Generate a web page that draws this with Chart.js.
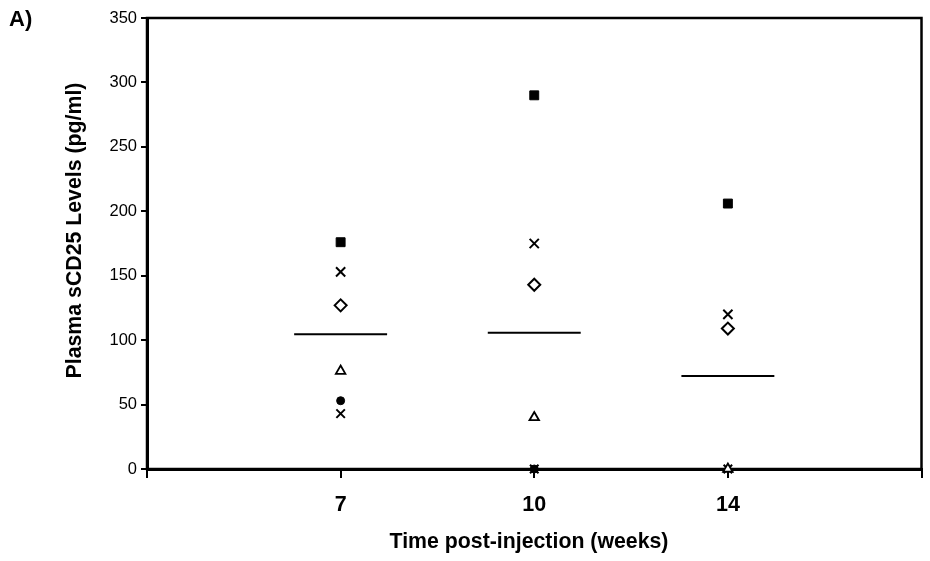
<!DOCTYPE html>
<html>
<head>
<meta charset="utf-8">
<script src="https://cdn.jsdelivr.net/npm/chart.js@4/dist/chart.umd.min.js"></script>
<style>
  html, body { margin: 0; padding: 0; background: #fff; }
  #wrap { position: relative; width: 930px; height: 561px; }
  #panel { position: absolute; left: 9px; top: 6px; font: bold 22px "Liberation Sans", Arial, sans-serif; color: #000; }
</style>
</head>
<body>
<div id="wrap">
  <canvas id="chart" width="930" height="561"></canvas>
  <div id="panel">A)</div>
</div>
<script>
// Weeks post-injection (shown as categories 1..3 on the x axis)
const weeks = ["7", "10", "14"];

// One series per animal, values in pg/ml (null = no marker visible)
const squareVals = [176, 290, 206];
const crossVals = [153, 175, 120];
const diamondVals = [127, 143, 109];
const triangleVals = [76, 40, 0];
const circleVals = [53, 0, null];
const crossLowVals = [43, 0, 0];

// Group means (horizontal bars)
const meanVals = [104.5, 105.8, 72.2];

const yTicks = [0, 50, 100, 150, 200, 250, 300, 350];

const yTitle = "Plasma sCD25 Levels (pg/ml)";
const xTitle = "Time post-injection (weeks)";

const FONT = '"Liberation Sans", Arial, sans-serif';
const MEAN_HALF = 0.24;

function toPoints(vals) {
  return vals.map((v, i) => ({ x: i + 1, y: v }));
}

function series(vals, style, radius, fill, border) {
  return {
    type: "scatter",
    data: toPoints(vals),
    pointStyle: style,
    pointRadius: radius,
    pointBackgroundColor: fill,
    pointBorderColor: "#000",
    pointBorderWidth: border,
    clip: false,
  };
}

const datasets = [
  series(squareVals, "rect", 6.3, "#000", 1),
  series(crossVals, "crossRot", 6.5, "#000", 2),
  series(diamondVals, "rectRot", 6, "#fff", 2),
  series(triangleVals, "triangle", 5.5, "#fff", 1.8),
  series(circleVals, "circle", 4, "#000", 1),
  series(crossLowVals, "crossRot", 6, "#000", 2),
];

meanVals.forEach((m, i) => {
  datasets.push({
    type: "line",
    data: [{ x: i + 1 - MEAN_HALF, y: m }, { x: i + 1 + MEAN_HALF, y: m }],
    borderColor: "#000",
    borderWidth: 2,
    pointRadius: 0,
    clip: false,
  });
});

// frame round the plot area + the two axis titles
const frame = {
  id: "frame",
  beforeDatasetsDraw(chart) {
    const { ctx, chartArea: a } = chart;
    ctx.save();
    ctx.strokeStyle = "#000";
    ctx.lineWidth = 2.5;
    ctx.strokeRect(a.left, a.top, a.right - a.left, a.bottom - a.top);
    ctx.restore();
  },
  afterDraw(chart) {
    const { ctx } = chart;
    ctx.save();
    ctx.fillStyle = "#000";
    ctx.font = "bold 21.3px " + FONT;
    ctx.textAlign = "center";
    ctx.textBaseline = "middle";
    ctx.fillText(xTitle, 529, 542);
    ctx.translate(75, 230.5);
    ctx.rotate(-Math.PI / 2);
    ctx.fillText(yTitle, 0, 0);
    ctx.restore();
  },
};

new Chart(document.getElementById("chart"), {
  data: { datasets },
  plugins: [frame],
  options: {
    responsive: false,
    animation: false,
    layout: { padding: { top: 18, right: 8, left: 0, bottom: 0 } },
    plugins: { legend: { display: false }, tooltip: { enabled: false } },
    scales: {
      x: {
        type: "linear",
        min: 0,
        max: 4,
        afterFit: (s) => { s.height = 92; s.paddingLeft = 0; s.paddingRight = 0; },
        afterBuildTicks: (s) => { s.ticks = [0, 1, 2, 3, 4].map((v) => ({ value: v })); },
        ticks: {
          autoSkip: false,
          maxRotation: 0,
          padding: 14,
          color: "#000",
          font: { family: FONT, size: 21.5, weight: "bold" },
          callback: (v) => weeks[v - 1] || "",
        },
        grid: { drawOnChartArea: false, drawTicks: true, tickLength: 9, color: "#000", lineWidth: 2 },
        border: { color: "#000", width: 3 },
      },
      y: {
        min: 0,
        max: 350,
        afterFit: (s) => { s.width = 147; s.paddingTop = 0; s.paddingBottom = 0; },
        afterBuildTicks: (s) => { s.ticks = yTicks.map((v) => ({ value: v })); },
        ticks: {
          padding: 4,
          color: "#000",
          font: { family: FONT, size: 16.5 },
        },
        grid: { drawOnChartArea: false, drawTicks: true, tickLength: 6, color: "#000", lineWidth: 2 },
        border: { color: "#000", width: 3 },
      },
    },
  },
});
</script>
</body>
</html>
